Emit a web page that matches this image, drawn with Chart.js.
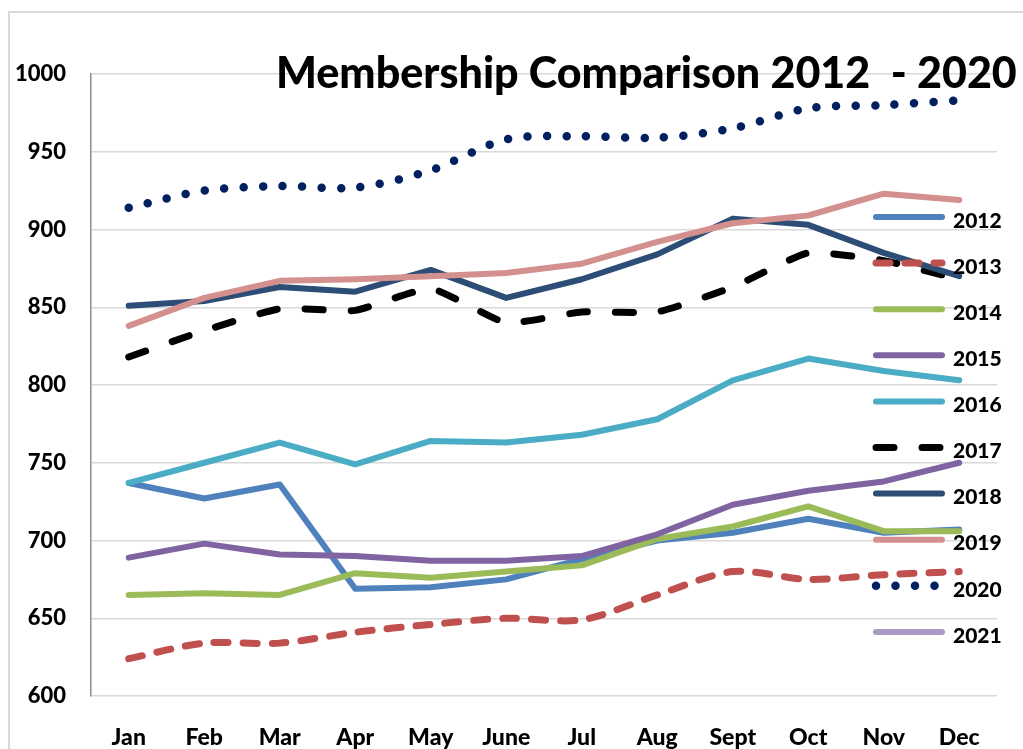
<!DOCTYPE html>
<html>
<head>
<meta charset="utf-8">
<title>Membership Comparison 2012 - 2020</title>
<script src="https://cdn.jsdelivr.net/npm/chart.js@4.4.1/dist/chart.umd.min.js"></script>
<style>
    html, body { margin: 0; padding: 0; background: #fff; }
    #wrap { width: 1023px; height: 749px; }
</style>
</head>
<body>
<div id="wrap"><canvas id="membershipChart" width="1023" height="749"></canvas></div>
<script>
// Datos
const months = ["Jan", "Feb", "Mar", "Apr", "May", "June", "Jul", "Aug", "Sept", "Oct", "Nov", "Dec"];
const yTicks = [600, 650, 700, 750, 800, 850, 900, 950, 1000];

const years = ["2012", "2013", "2014", "2015", "2016", "2017", "2018", "2019", "2020", "2021"];

const m2012 = [737, 727, 736, 669, 670, 675, 688, 700, 705, 714, 705, 707];
const m2013 = [624, 634, 634, 641, 646, 650, 649, 665, 680, 675, 678, 680];
const m2014 = [665, 666, 665, 679, 676, 680, 684, 701, 709, 722, 706, 706];
const m2015 = [689, 698, 691, 690, 687, 687, 690, 704, 723, 732, 738, 750];
const m2016 = [737, 750, 763, 749, 764, 763, 768, 778, 803, 817, 809, 803];
const m2017 = [818, 835, 849, 848, 862, 840, 847, 847, 863, 885, 880, 868];
const m2018 = [851, 854, 863, 860, 874, 856, 868, 884, 907, 903, 885, 870];
const m2019 = [838, 856, 867, 868, 870, 872, 878, 892, 904, 909, 923, 919];
const m2020 = [914, 925, 928, 927, 938, 958, 960, 959, 965, 978, 980, 983];
const m2021 = [];

const FONT = "Lato, 'Open Sans', sans-serif";
const WEIGHT = "900";

// Estilo de cada serie (color, trazo)
const seriesStyle = [
    { data: m2012, color: "#4F81BD", width: 6, dash: [], tension: 0 },
    { data: m2013, color: "#C0504D", width: 7, dash: [14, 15], tension: 0.3 },
    { data: m2014, color: "#9BBB59", width: 6, dash: [], tension: 0 },
    { data: m2015, color: "#8064A2", width: 6, dash: [], tension: 0 },
    { data: m2016, color: "#4BACC6", width: 6, dash: [], tension: 0 },
    { data: m2017, color: "#000000", width: 7, dash: [18, 28], tension: 0.15 },
    { data: m2018, color: "#2C4D75", width: 6, dash: [], tension: 0 },
    { data: m2019, color: "#D4908E", width: 6, dash: [], tension: 0 },
    { data: m2020, color: "#002060", width: 8.5, dash: [0, 19.5], tension: 0.3 },
    { data: m2021, color: "#A99BC5", width: 6, dash: [], tension: 0 }
];

// Marco gris alrededor del grafico
const framePlugin = {
    id: "frame",
    beforeDraw(chart) {
        const ctx = chart.ctx;
        ctx.save();
        ctx.fillStyle = "#fff";
        ctx.fillRect(0, 0, chart.width, chart.height);
        ctx.strokeStyle = "#D9D9D9";
        ctx.lineWidth = 2;
        ctx.strokeRect(9, 12, chart.width + 20, chart.height + 20);
        ctx.restore();
    }
};

// Titulo encima del area del grafico
const titlePlugin = {
    id: "bigTitle",
    afterDatasetsDraw(chart) {
        const ctx = chart.ctx;
        const text = "Membership Comparison 2012  - 2020";
        ctx.save();
        let size = 42;
        ctx.font = `${WEIGHT} ${size}px ${FONT}`;
        const w = ctx.measureText(text).width;
        size = size * 741 / w;
        ctx.font = `${WEIGHT} ${size}px ${FONT}`;
        ctx.fillStyle = "#000";
        ctx.textBaseline = "alphabetic";
        ctx.textAlign = "left";
        ctx.fillText(text, 276, 88);
        ctx.restore();
    }
};

// Leyenda dibujada a mano sobre el area de trazado
const legendPlugin = {
    id: "sideLegend",
    afterDatasetsDraw(chart) {
        const ctx = chart.ctx;
        const x0 = 876, x1 = 942, textX = 953;
        ctx.save();
        ctx.font = `${WEIGHT} 21px ${FONT}`;
        ctx.textBaseline = "middle";
        ctx.textAlign = "left";
        chart.data.datasets.forEach((ds, i) => {
            const y = 217 + i * 46.1;
            ctx.beginPath();
            ctx.strokeStyle = ds.borderColor;
            ctx.lineWidth = ds.borderWidth;
            ctx.lineCap = "round";
            ctx.setLineDash(ds.borderDash || []);
            ctx.moveTo(x0, y);
            ctx.lineTo(x1, y);
            ctx.stroke();
            ctx.setLineDash([]);
            ctx.fillStyle = "#000";
            ctx.fillText(ds.label, textX, y + 4);
        });
        ctx.restore();
    }
};

document.addEventListener("DOMContentLoaded", () => {
    const ctx = document.getElementById("membershipChart").getContext("2d");

    const datasets = seriesStyle.map((s, i) => ({
        label: years[i],
        data: s.data,
        borderColor: s.color,
        backgroundColor: s.color,
        borderWidth: s.width,
        borderDash: s.dash,
        borderCapStyle: "round",
        borderJoinStyle: "round",
        tension: s.tension,
        pointRadius: 0,
        fill: false,
        order: -i   // la ultima serie queda encima, como en Excel
    }));

    new Chart(ctx, {
        type: "line",
        data: { labels: months, datasets: datasets },
        options: {
            responsive: false,
            animation: false,
            layout: { padding: { left: 9, top: 74, right: 26, bottom: 0 } },
            plugins: {
                legend: { display: false },
                title: { display: false },
                tooltip: { enabled: false }
            },
            scales: {
                x: {
                    offset: true,
                    grid: { display: false, drawTicks: false },
                    border: { display: false },
                    ticks: {
                        color: "#000",
                        font: { family: FONT, size: 23, weight: WEIGHT },
                        padding: 28,
                        maxRotation: 0,
                        autoSkip: false
                    },
                    afterFit: scale => { scale.height = 53; }
                },
                y: {
                    min: 600,
                    max: 1000,
                    afterBuildTicks: scale => { scale.ticks = yTicks.map(v => ({ value: v })); },
                    grid: { color: "#D9D9D9", lineWidth: 1.5, drawTicks: false },
                    border: { display: true, color: "#8C8C8C", width: 1.5 },
                    ticks: {
                        color: "#000",
                        font: { family: FONT, size: 22, weight: WEIGHT },
                        padding: 25,
                        callback: v => String(v)
                    },
                    afterFit: scale => { scale.width = 82; }
                }
            }
        },
        plugins: [framePlugin, titlePlugin, legendPlugin]
    });
});
</script>
</body>
</html>
